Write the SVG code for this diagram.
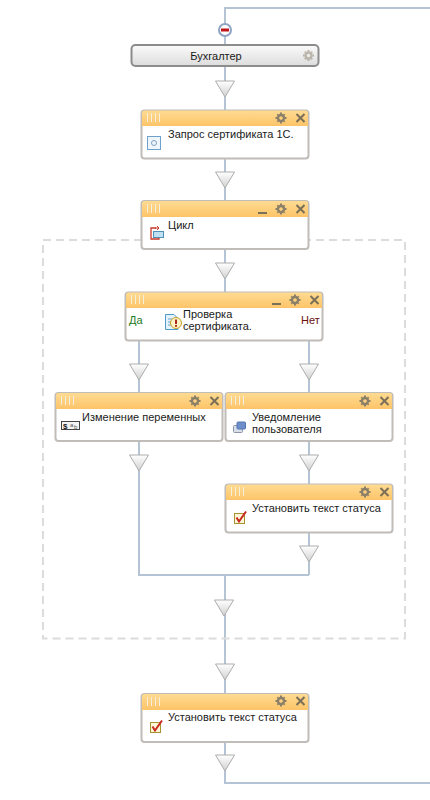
<svg xmlns="http://www.w3.org/2000/svg" width="430" height="800" viewBox="0 0 430 800">
<style>
text{font-family:"Liberation Sans",Arial,sans-serif;font-size:11px;fill:#1a1a1a}
.line{fill:none;stroke:#b5c4d5;stroke-width:2}
.box{fill:#fff;stroke:#c0bcb8;stroke-width:2}
.grip{stroke:#f5eedc;stroke-width:1}
.gear{fill:#8a7f68}
.x{stroke:#7a6f58;stroke-width:2;fill:none}
.min{fill:#7a6f58}
</style>
<defs>
<linearGradient id="hdr" x1="0" y1="0" x2="0" y2="1"><stop offset="0" stop-color="#fedb92"/><stop offset="1" stop-color="#fdc468"/></linearGradient>
<linearGradient id="tri" x1="0" y1="0" x2="0" y2="1"><stop offset="0" stop-color="#fff"/><stop offset="1" stop-color="#d0d0d0"/></linearGradient>
<linearGradient id="role" x1="0" y1="0" x2="0" y2="1"><stop offset="0" stop-color="#fbfbfb"/><stop offset="1" stop-color="#dcdcdc"/></linearGradient>
<g id="triangle"><path d="M-9.500 0H9.500L0 16Z" fill="url(#tri)" stroke="#adadad" stroke-width="1"/></g>
<g id="gear"><circle r="3" fill="none" stroke="#8a7f68" stroke-width="2.400"/><path d="M-1 -5.500H1V-4H-1ZM-1 4H1V5.500H-1ZM-5.500 -1H-4V1H-5.500ZM4 -1H5.500V1H4ZM-4.400 -3L-3 -4.400L-2.200 -3.500L-3.500 -2.200ZM3 4.400L4.400 3L3.500 2.200L2.200 3.500ZM4.400 -3L3 -4.400L2.200 -3.500L3.500 -2.200ZM-3 4.400L-4.400 3L-3.500 2.200L-2.200 3.500Z" class="gear"/></g>
<path id="close" d="M-4 -4L4 4M4 -4L-4 4" class="x"/>
<path id="grip" d="M0.500 0V9M4.500 0V9M8.500 0V9M12.500 0V9" class="grip"/>
<g id="check"><rect x="0.500" y="2.500" width="10" height="10" fill="#fdf7d8" stroke="#a89232"/><path d="M2.500 6.500L5 10.500L12 0.500" fill="none" stroke="#c8281e" stroke-width="2"/></g>
</defs>
<g id="connectors">
<path class="line" d="M430 8H225V45M225 66V110M225 159V200M225 250V292M139 341V392M309 341V392M139 442V575H309M309 442V484M309 533V575M225 575V693M225 743V783H430"/>
</g>
<path id="group-frame" d="M43 240H405V638.500H43Z" fill="none" stroke="#dcdcdc" stroke-width="2" stroke-dasharray="8 5"/>
<g id="triangles">
<use href="#triangle" x="225" y="81"/>
<use href="#triangle" x="225" y="172"/>
<use href="#triangle" x="225" y="263"/>
<use href="#triangle" x="139" y="364"/>
<use href="#triangle" x="309" y="364"/>
<use href="#triangle" x="139" y="455"/>
<use href="#triangle" x="309" y="455"/>
<use href="#triangle" x="309" y="546"/>
<use href="#triangle" x="224" y="600"/>
<use href="#triangle" x="225" y="664"/>
<use href="#triangle" x="225" y="755"/>
</g>
<g id="collapse">
<circle cx="225" cy="30" r="6" fill="#fff" stroke="#8fa3c2" stroke-width="2"/>
<rect x="221" y="28.500" width="8" height="3" fill="#c0141c"/>
</g>
<g id="role-node">
<rect x="131.500" y="45" width="187" height="21" rx="4" fill="url(#role)" stroke="#8c8c8c" stroke-width="2"/>
<text x="216" y="60" text-anchor="middle">Бухгалтер</text>
<use href="#gear" x="308.500" y="55.500" opacity="0.500"/>
</g>
<g id="node-request">
<rect class="box" x="141.500" y="110.500" width="167" height="48" rx="3"/>
<path d="M142 126V113a2.500 2.500 0 0 1 2.500 -2.500H305.500a2.500 2.500 0 0 1 2.500 2.500V126Z" fill="url(#hdr)"/>
<use href="#grip" x="147" y="113"/>
<use href="#gear" x="281" y="118"/>
<use href="#close" x="300.500" y="118"/>
<rect x="147.500" y="136.500" width="13" height="13" fill="#eef6fc" stroke="#6ea2cc"/>
<circle cx="154" cy="143" r="2.500" fill="none" stroke="#7f9fbf"/>
<text x="168" y="138">Запрос сертификата 1С.</text>
</g>
<g id="node-loop">
<rect class="box" x="141.500" y="201" width="167" height="48" rx="3"/>
<path d="M142 217V203.500a2.500 2.500 0 0 1 2.500 -2.500H305.500a2.500 2.500 0 0 1 2.500 2.500V217Z" fill="url(#hdr)"/>
<use href="#grip" x="147" y="204"/>
<rect x="258" y="212" width="9" height="2" class="min"/>
<use href="#gear" x="281" y="209"/>
<use href="#close" x="300.500" y="209"/>
<path d="M156 228H151V239H159V236" fill="none" stroke="#c8382a" stroke-width="1.300"/>
<rect x="153.500" y="231.500" width="10" height="6" fill="#bfe0f2" stroke="#4f8fb8"/>
<path d="M155 228H159M157 226L159 228L157 230" fill="none" stroke="#c8382a"/>
<text x="168" y="229">Цикл</text>
</g>
<g id="node-check">
<rect class="box" x="125.500" y="292.500" width="197" height="48" rx="3"/>
<path d="M126 308V295a2.500 2.500 0 0 1 2.500 -2.500H319.500a2.500 2.500 0 0 1 2.500 2.500V308Z" fill="url(#hdr)"/>
<use href="#grip" x="131" y="295"/>
<rect x="272" y="303" width="9" height="2" class="min"/>
<use href="#gear" x="295" y="300"/>
<use href="#close" x="314.500" y="300"/>
<path d="M165.500 314.500H174L178 318.500V329.500H165.500Z" fill="#e4f2fb" stroke="#4f9ccb"/>
<path d="M168 319H172M168 322H171M168 325H172" stroke="#6ea2cc"/>
<circle cx="176" cy="323" r="5.500" fill="#fdf3c4" stroke="#c9a227"/>
<rect x="175" y="319.500" width="2" height="4.500" fill="#b02a1c"/><rect x="175" y="325" width="2" height="1.800" fill="#b02a1c"/>
<text x="129" y="324" style="fill:#1c7a1c">Да</text>
<text x="183" y="318">Проверка</text>
<text x="183" y="330">сертификата.</text>
<text x="301" y="324" style="fill:#6a1010">Нет</text>
</g>
<g id="node-vars">
<rect class="box" x="55.500" y="393" width="167" height="48" rx="3"/>
<path d="M56 409V395.500a2.500 2.500 0 0 1 2.500 -2.500H219.500a2.500 2.500 0 0 1 2.500 2.500V409Z" fill="url(#hdr)"/>
<use href="#grip" x="61" y="396"/>
<use href="#gear" x="195" y="401"/>
<use href="#close" x="214.500" y="401"/>
<rect x="61.500" y="421.500" width="18" height="8" fill="#f4f4f4" stroke="#444"/>
<text x="63" y="429" style="font-size:8px;font-weight:bold">$</text>
<text x="70" y="427" style="font-size:6px;fill:#555">a</text>
<text x="74" y="429" style="font-size:6px;fill:#555">b</text>
<text x="82" y="421">Изменение переменных</text>
</g>
<g id="node-notify">
<rect class="box" x="225.500" y="393" width="167" height="48" rx="3"/>
<path d="M226 409V395.500a2.500 2.500 0 0 1 2.500 -2.500H389.500a2.500 2.500 0 0 1 2.500 2.500V409Z" fill="url(#hdr)"/>
<use href="#grip" x="231" y="396"/>
<use href="#gear" x="365" y="401"/>
<use href="#close" x="384.500" y="401"/>
<rect x="233.500" y="425.500" width="9" height="7" rx="1" fill="#d8dee8" stroke="#8a96a8"/>
<rect x="237" y="422" width="8.500" height="7" rx="1" fill="#6d8ec8" stroke="#5576b4"/>
<text x="252" y="421">Уведомление</text>
<text x="252" y="433">пользователя</text>
</g>
<g id="node-status-1">
<rect class="box" x="225.500" y="484.500" width="167" height="48" rx="3"/>
<path d="M226 500V487a2.500 2.500 0 0 1 2.500 -2.500H389.500a2.500 2.500 0 0 1 2.500 2.500V500Z" fill="url(#hdr)"/>
<use href="#grip" x="231" y="487"/>
<use href="#gear" x="365" y="492"/>
<use href="#close" x="384.500" y="492"/>
<use href="#check" x="234" y="511"/>
<text x="252" y="512">Установить текст статуса</text>
</g>
<g id="node-status-2">
<rect class="box" x="141.500" y="694" width="167" height="48" rx="3"/>
<path d="M142 710V696.500a2.500 2.500 0 0 1 2.500 -2.500H305.500a2.500 2.500 0 0 1 2.500 2.500V710Z" fill="url(#hdr)"/>
<use href="#grip" x="147" y="697"/>
<use href="#gear" x="281" y="701"/>
<use href="#close" x="300.500" y="701"/>
<use href="#check" x="150" y="720"/>
<text x="168" y="721">Установить текст статуса</text>
</g>
</svg>
